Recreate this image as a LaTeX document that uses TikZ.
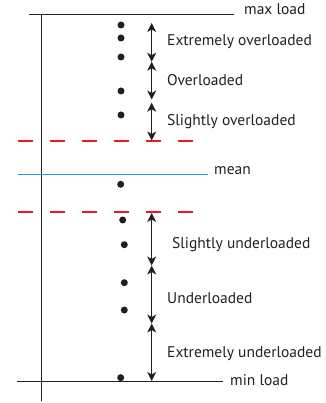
\documentclass[tikz,border=0pt]{standalone}
\usepackage{fontspec}
\setmainfont{PT Sans}
\usetikzlibrary{arrows.meta}
\definecolor{ink}{RGB}{35,31,32}
\definecolor{dashred}{RGB}{232,28,36}
\definecolor{meanblue}{RGB}{40,160,215}
\begin{document}
\begin{tikzpicture}[x=1pt,y=-1pt,
  dot/.style={circle,fill=ink,inner sep=0pt,minimum size=7pt},
  lbl/.style={anchor=base west,inner sep=0pt,text=ink,font=\fontsize{15.5}{17}\selectfont},
  axisline/.style={draw=ink,line width=1pt},
  dblarrow/.style={draw=ink,line width=1pt,{Stealth[length=9pt,width=9pt,inset=2.5pt]}-{Stealth[length=9pt,width=9pt,inset=2.5pt]}},
  reddash/.style={draw=dashred,line width=1.1pt,dash pattern=on 15pt off 17pt},
  meanline/.style={draw=meanblue,line width=1pt}]
\useasboundingbox (0,0) rectangle (325,403);
% axis and limit lines
\coordinate (axtop) at (41,14.7);
\coordinate (axbot) at (41,401);
\coordinate (maxL) at (29,14.7);
\coordinate (maxR) at (234,14.7);
\coordinate (minL) at (17,381.5);
\coordinate (minR) at (223,381.5);
\coordinate (meanL) at (18,174.3);
\coordinate (meanR) at (208,174.3);
\coordinate (d1L) at (18,141);
\coordinate (d1R) at (195,141);
\coordinate (d2L) at (18,212);
\coordinate (d2R) at (195,212);
\draw[axisline] (axtop) -- (axbot);
\draw[axisline] (maxL) -- (maxR);
\draw[axisline] (minL) -- (minR);
\draw[meanline] (meanL) -- (meanR);
\draw[reddash] (d1L) -- (d1R);
\draw[reddash] (d2L) -- (d2R);
\node[lbl] (tmax) at (244,15) {max load};
\node[lbl] (tmean) at (214,175) {mean};
\node[lbl] (tmin) at (230,385) {min load};
% dots
\node[dot] (p1) at (121,25) {};
\node[dot] (p2) at (121,38) {};
\node[dot] (p3) at (121,57) {};
\node[dot] (p4) at (121,91) {};
\node[dot] (p5) at (121,115) {};
\node[dot] (p6) at (120.7,184.3) {};
\node[dot] (p7) at (122.7,220) {};
\node[dot] (p8) at (124.3,244.7) {};
\node[dot] (p9) at (124.3,282.7) {};
\node[dot] (p10) at (124.3,310) {};
\node[dot] (p11) at (120.7,377.7) {};
% arrows
\coordinate (a0) at (151.7,23);
\coordinate (a1) at (151.7,61.7);
\coordinate (a2) at (151.7,99.5);
\coordinate (a3) at (151.7,102.7);
\coordinate (a4) at (151.7,140.5);
\coordinate (b0) at (151.7,213);
\coordinate (b1) at (151.7,265.5);
\coordinate (b2) at (151.7,323.5);
\coordinate (b3) at (151.7,381);
\draw[dblarrow] (a0) -- (a1);
\draw[dblarrow] (a1) -- (a2);
\draw[dblarrow] (a3) -- (a4);
\draw[dblarrow] (b0) -- (b1);
\draw[dblarrow] (b1) -- (b2);
\draw[dblarrow] (b2) -- (b3);
% labels
\node[lbl] (l1) at (167,46) {Extremely overloaded};
\node[lbl] (l2) at (167,86) {Overloaded};
\node[lbl] (l3) at (167,125.5) {Slightly overloaded};
\node[lbl] (l4) at (172,248) {Slightly underloaded};
\node[lbl] (l5) at (167,303) {Underloaded};
\node[lbl] (l6) at (167,357.5) {Extremely underloaded};
\end{tikzpicture}
\end{document}
